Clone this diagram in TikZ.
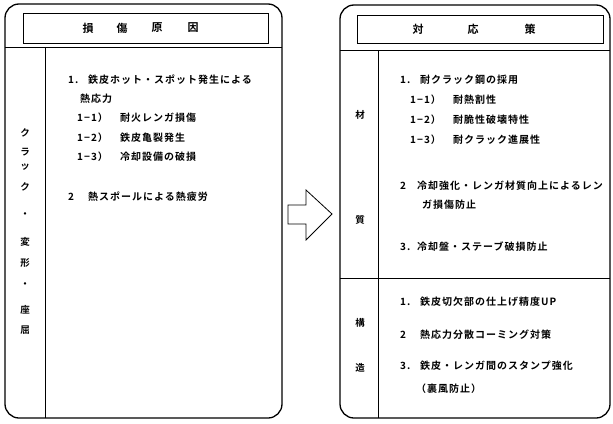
\documentclass[tikz,border=0pt]{standalone}
\usepackage{fontspec}
\newfontfamily\jpfont[LetterSpace=10]{Noto Sans CJK JP Bold}
\begin{document}
\begin{tikzpicture}[
            x=1pt, y=-1pt,
            frame/.style={
                draw,
                line width=1.3pt,
                rounded corners=14pt
            },
            headbox/.style={
                draw,
                line width=0.6pt
            },
            rule/.style={
                draw,
                line width=0.8pt
            },
            item/.style={
                anchor=west,
                inner sep=0pt,
                font=\jpfont\fontsize{10}{12}\selectfont
            },
            side/.style={
                inner sep=0pt,
                font=\jpfont\fontsize{9.5}{11}\selectfont
            },
            title/.style={
                inner sep=0pt,
                font=\jpfont\fontsize{11}{13}\selectfont
            }
        ]
        \useasboundingbox (0,0) rectangle (613,423);

        % frames
        \draw[frame] (5,4) rectangle (282,418);
        \draw[frame] (340,5) rectangle (610,418);
        \draw[headbox] (23,13) rectangle (268,43);
        \draw[headbox] (357,15) rectangle (603,43);

        % lines
        \draw[rule] (5,47) -- (282,47);
        \draw[rule] (45,47) -- (45,418);
        \draw[rule] (340,50) -- (610,50);
        \draw[rule] (378,50) -- (378,418);
        \draw[rule] (340,278) -- (610,278);

        % arrow
        \draw[line width=0.8pt] (288,205) -- (306,205) -- (306,190) -- (332,214)
            -- (306,240) -- (306,224) -- (288,224) -- cycle;

        % titles
        \node[title] (t1) at (88,28) {損};
        \node[title] (t2) at (122,28) {傷};
        \node[title] (t3) at (157,28) {原};
        \node[title] (t4) at (193,28) {因};
        \node[title] (r1) at (418,29) {対};
        \node[title] (r2) at (473,29) {応};
        \node[title] (r3) at (530,29) {策};

        % side labels
        \foreach \ch/\yy [count=\i] in {ク/133, ラ/152, ッ/167, ク/187, ・/215,
                                        変/242, 形/263, ・/285, 座/310, 屈/330}
            \node[side] (s\i) at (25,\yy) {\ch};
        \node[side] (m1) at (360,115) {材};
        \node[side] (m2) at (360,220) {質};
        \node[side] (k1) at (360,323) {構};
        \node[side] (k2) at (360,368) {造};

        % causes
        \node[item] (c1n) at (68,80) {1.};
        \node[item] (c1) at (88,80) {鉄皮ホット・スポット発生による};
        \node[item] (c1b) at (80,99) {熱応力};
        \node[item] (c11n) at (77,118) {1−1）};
        \node[item] (c11) at (120,118) {耐火レンガ損傷};
        \node[item] (c12n) at (77,138) {1−2）};
        \node[item] (c12) at (120,138) {鉄皮亀裂発生};
        \node[item] (c13n) at (77,157) {1−3）};
        \node[item] (c13) at (120,157) {冷却設備の破損};
        \node[item] (c2n) at (68,197) {2};
        \node[item] (c2) at (88,197) {熱スポールによる熱疲労};

        % measures
        \node[item] (a1n) at (400,80) {1.};
        \node[item] (a1) at (420,80) {耐クラック鋼の採用};
        \node[item] (a11n) at (410,100) {1−1）};
        \node[item] (a11) at (453,100) {耐熱割性};
        \node[item] (a12n) at (410,120) {1−2）};
        \node[item] (a12) at (453,120) {耐脆性破壊特性};
        \node[item] (a13n) at (410,140) {1−3）};
        \node[item] (a13) at (453,140) {耐クラック進展性};
        \node[item] (a2n) at (400,186) {2};
        \node[item] (a2) at (417,186) {冷却強化・レンガ材質向上によるレン};
        \node[item] (a2b) at (422,205) {ガ損傷防止};
        \node[item] (a3n) at (400,247) {3.};
        \node[item] (a3) at (417,247) {冷却盤・ステーブ破損防止};
        \node[item] (b1n) at (400,302) {1.};
        \node[item] (b1) at (420,302) {鉄皮切欠部の仕上げ精度UP};
        \node[item] (b2n) at (400,335) {2};
        \node[item] (b2) at (420,335) {熱応力分散コーミング対策};
        \node[item] (b3n) at (400,366) {3.};
        \node[item] (b3) at (420,366) {鉄皮・レンガ間のスタンプ強化};
        \node[item] (b3b) at (416,389) {（裏風防止）};
    \end{tikzpicture}
\end{document}
